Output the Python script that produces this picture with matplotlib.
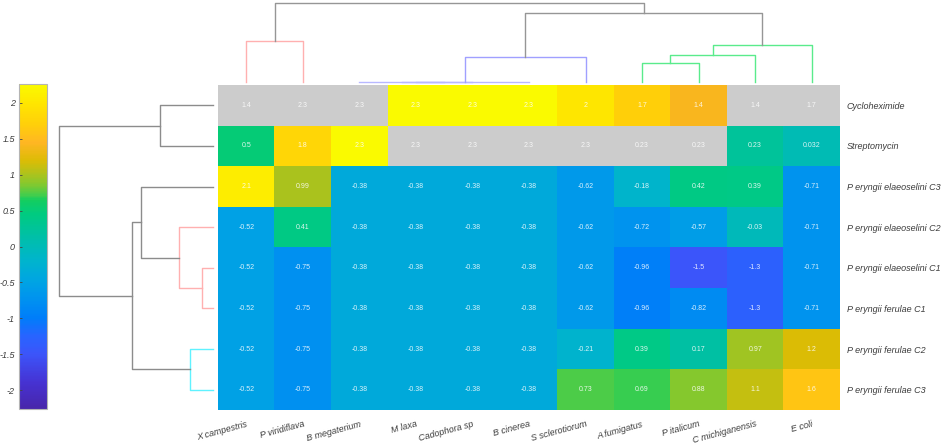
import numpy as np
import matplotlib
matplotlib.use('Agg')
import matplotlib.pyplot as plt
from matplotlib.colors import LinearSegmentedColormap

plt.rcParams['font.family'] = ['Liberation Sans', 'DejaVu Sans']
plt.rcParams['axes.unicode_minus'] = False

# columns (microorganisms) and rows (extracts / controls)
organisms = ['X campestris', 'P viridiflava', 'B megaterium', 'M laxa', 'Cadophora sp',
             'B cinerea', 'S sclerotiorum', 'A fumigatus', 'P italicum',
             'C michiganensis', 'E coli']
samples = ['Cycloheximide', 'Streptomycin', 'P eryngii elaeoselini C3',
           'P eryngii elaeoselini C2', 'P eryngii elaeoselini C1',
           'P eryngii ferulae C1', 'P eryngii ferulae C2', 'P eryngii ferulae C3']

cyclo = [1.4, 2.3, 2.3, 2.3, 2.3, 2.3, 2, 1.7, 1.4, 1.4, 1.7]
strepto = [0.5, 1.8, 2.3, 2.3, 2.3, 2.3, 2.3, 0.23, 0.23, 0.23, 0.032]
elae_c3 = [2.1, 0.99, -0.38, -0.38, -0.38, -0.38, -0.62, -0.18, 0.42, 0.39, -0.71]
elae_c2 = [-0.52, 0.41, -0.38, -0.38, -0.38, -0.38, -0.62, -0.72, -0.57, -0.03, -0.71]
elae_c1 = [-0.52, -0.75, -0.38, -0.38, -0.38, -0.38, -0.62, -0.96, -1.5, -1.3, -0.71]
fer_c1 = [-0.52, -0.75, -0.38, -0.38, -0.38, -0.38, -0.62, -0.96, -0.82, -1.3, -0.71]
fer_c2 = [-0.52, -0.75, -0.38, -0.38, -0.38, -0.38, -0.21, 0.39, 0.17, 0.97, 1.2]
fer_c3 = [-0.52, -0.75, -0.38, -0.38, -0.38, -0.38, 0.73, 0.69, 0.88, 1.1, 1.6]

# cells shown in grey
grey_cells = [
    [1, 1, 1, 0, 0, 0, 0, 0, 0, 1, 1],
    [0, 0, 0, 1, 1, 1, 1, 1, 1, 0, 0],
] + [[0] * 11] * 6

# linkages: (a, b, height), leaves numbered first
col_links = [(0, 1, 41), (3, 4, 0), (2, 12, 0), (13, 5, 0), (14, 6, 25),
             (7, 8, 19), (16, 9, 27), (17, 10, 37.5), (15, 18, 69), (11, 19, 79.5)]
col_link_colors = ['#ffb0b0', '#b8b8ff', '#b8b8ff', '#b8b8ff', '#a0a0ff',
                   '#5aeb8c', '#5aeb8c', '#5aeb8c', '#969696', '#969696']
row_links = [(0, 1, 53), (4, 5, 11), (3, 9, 34), (2, 10, 72), (6, 7, 23),
             (11, 12, 81), (8, 13, 154)]
row_link_colors = ['#8c8c8c', '#ffb0b0', '#ffb0b0', '#8c8c8c', '#60f2ff',
                   '#8c8c8c', '#8c8c8c']

data = np.array([cyclo, strepto, elae_c3, elae_c2, elae_c1, fer_c1, fer_c2, fer_c3])
masked = np.ma.masked_array(data, mask=np.array(grey_cells, dtype=bool))

vmin, vmax = -2.26, 2.26
anchors = [(-2.26, (72, 38, 170)), (-1.9, (70, 50, 210)), (-1.5, (60, 85, 250)),
           (-1.25, (40, 100, 255)), (-1.0, (0, 125, 250)), (-0.75, (0, 145, 240)),
           (-0.5, (0, 163, 228)), (-0.2, (0, 180, 205)), (0.1, (0, 190, 172)),
           (0.45, (0, 203, 128)), (0.65, (20, 205, 95)), (0.72, (70, 205, 75)),
           (0.88, (135, 200, 45)), (1.0, (170, 195, 30)), (1.2, (220, 188, 5)),
           (1.45, (255, 182, 35)), (1.7, (255, 207, 10)), (2.0, (255, 230, 0)),
           (2.26, (250, 250, 0))]
cmap = LinearSegmentedColormap.from_list(
    'clust', [((v - vmin) / (vmax - vmin), tuple(c / 255 for c in rgb)) for v, rgb in anchors])
cmap.set_bad('#cccccc')

W, H = 941, 446
fig = plt.figure(figsize=(W / 100, H / 100), dpi=100)


def box(x0, y0, x1, y1):
    return [x0 / W, 1 - y1 / H, (x1 - x0) / W, (y1 - y0) / H]


ax = fig.add_axes(box(218, 85, 840, 410))
im = ax.imshow(masked, cmap=cmap, vmin=vmin, vmax=vmax, aspect='auto',
               interpolation='nearest')
for i in range(data.shape[0]):
    for j in range(data.shape[1]):
        ax.text(j, i, '%.2g' % data[i, j], ha='center', va='center',
                fontsize=5, color='white', alpha=0.85)
ax.set_xticks(range(len(organisms)))
ax.set_xticklabels(organisms, rotation=15, ha='right', rotation_mode='anchor',
                   fontsize=6.5, style='italic', color='#3c3c3c')
ax.set_yticks(range(len(samples)))
ax.set_yticklabels(samples, fontsize=6.5, style='italic', color='#3c3c3c')
ax.yaxis.tick_right()
ax.tick_params(axis='x', length=0, pad=7)
ax.tick_params(axis='y', length=0, pad=5)
for s in ax.spines.values():
    s.set_visible(False)


def draw_dendro(dax, links, colors, n, vertical=False):
    pos = {i: float(i) for i in range(n)}
    hgt = {i: 0.0 for i in range(n)}
    for k, ((a, b, h), c) in enumerate(zip(links, colors)):
        xs = [pos[a], pos[a], pos[b], pos[b]]
        ys = [hgt[a], h, h, hgt[b]]
        if vertical:
            dax.plot(ys, xs, color=c, lw=1, clip_on=False)
        else:
            dax.plot(xs, ys, color=c, lw=1, clip_on=False)
        pos[n + k] = (pos[a] + pos[b]) / 2
        hgt[n + k] = h


top = fig.add_axes(box(218, 2, 840, 82))
draw_dendro(top, col_links, col_link_colors, len(organisms))
top.set_xlim(-0.5, len(organisms) - 0.5)
top.set_ylim(0, 80)
top.axis('off')

left = fig.add_axes(box(53, 85, 213, 410))
draw_dendro(left, row_links, row_link_colors, len(samples), vertical=True)
left.set_ylim(len(samples) - 0.5, -0.5)
left.set_xlim(160, 0)
left.axis('off')

cax = fig.add_axes(box(19, 84, 47, 409))
cb = fig.colorbar(im, cax=cax)
cb.set_ticks([-2, -1.5, -1, -0.5, 0, 0.5, 1, 1.5, 2])
cb.set_ticklabels(['%g' % t for t in [-2, -1.5, -1, -0.5, 0, 0.5, 1, 1.5, 2]])
cax.yaxis.set_ticks_position('left')
cax.tick_params(direction='in', length=2, width=0.6, labelsize=6.5, color='#444444',
                labelcolor='#3c3c3c', pad=3)
for lab in cax.get_yticklabels():
    lab.set_style('italic')
cb.outline.set_edgecolor('#b4b4b4')
cb.outline.set_linewidth(0.8)

fig.savefig('out.png', dpi=100)
